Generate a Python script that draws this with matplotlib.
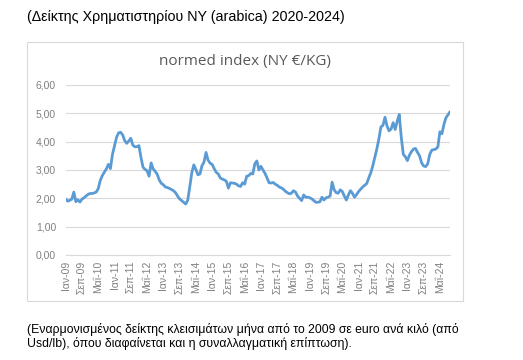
import matplotlib.pyplot as plt
import matplotlib.patches as mpatches
import pandas as pd

# monthly closing index, euro per kilo, Jan 2009 - Oct 2024
index_2009 = [1.98, 1.90, 1.93, 1.97, 2.22, 1.88, 1.95, 1.87, 1.97, 2.02, 2.08, 2.14]
index_2010 = [2.17, 2.17, 2.19, 2.22, 2.34, 2.63, 2.80, 2.92, 3.04, 3.20, 3.05, 3.55]
index_2011 = [3.85, 4.15, 4.31, 4.33, 4.24, 4.04, 3.94, 4.02, 4.12, 3.88, 3.82, 3.82]
index_2012 = [3.86, 3.45, 3.10, 3.02, 2.98, 2.78, 3.25, 3.04, 2.95, 2.85, 2.65, 2.53]
index_2013 = [2.48, 2.40, 2.38, 2.35, 2.31, 2.27, 2.20, 2.08, 1.98, 1.92, 1.86, 1.80]
index_2014 = [1.93, 2.40, 2.90, 3.18, 3.02, 2.83, 2.86, 3.15, 3.28, 3.62, 3.35, 3.24]
index_2015 = [3.20, 3.05, 2.92, 2.86, 2.72, 2.68, 2.65, 2.60, 2.36, 2.55, 2.54, 2.53]
index_2016 = [2.50, 2.44, 2.42, 2.55, 2.50, 2.78, 2.80, 2.88, 2.86, 3.22, 3.32, 3.00]
index_2017 = [3.13, 3.00, 2.88, 2.72, 2.55, 2.54, 2.56, 2.50, 2.46, 2.40, 2.37, 2.32]
index_2018 = [2.25, 2.20, 2.16, 2.18, 2.27, 2.22, 2.08, 2.00, 1.92, 2.12, 2.04, 2.04]
index_2019 = [2.02, 1.98, 1.92, 1.86, 1.86, 1.88, 2.04, 1.94, 2.02, 2.04, 2.08, 2.57]
index_2020 = [2.30, 2.20, 2.18, 2.30, 2.24, 2.08, 1.94, 2.12, 2.27, 2.18, 2.04, 2.13]
index_2021 = [2.24, 2.32, 2.40, 2.46, 2.52, 2.72, 2.90, 3.15, 3.45, 3.75, 4.10, 4.52]
index_2022 = [4.58, 4.86, 4.55, 4.38, 4.45, 4.67, 4.43, 4.72, 4.96, 4.15, 3.55, 3.47]
index_2023 = [3.33, 3.52, 3.65, 3.74, 3.76, 3.62, 3.50, 3.25, 3.14, 3.12, 3.22, 3.55]
index_2024 = [3.70, 3.72, 3.74, 3.82, 4.35, 4.28, 4.62, 4.85, 4.95, 5.06]

values = (index_2009 + index_2010 + index_2011 + index_2012 + index_2013 + index_2014
          + index_2015 + index_2016 + index_2017 + index_2018 + index_2019 + index_2020
          + index_2021 + index_2022 + index_2023 + index_2024)

greek_months = ['Ιαν', 'Φεβ', 'Μαρ', 'Απρ', 'Μαΐ', 'Ιουν',
                'Ιουλ', 'Αυγ', 'Σεπ', 'Οκτ', 'Νοε', 'Δεκ']
dates = pd.date_range('2009-01-01', periods=len(values), freq='MS')
labels = [f"{greek_months[d.month - 1]}-{d.year % 100:02d}" for d in dates]
tick_step = 8

plt.rcParams['font.family'] = ['Liberation Sans', 'DejaVu Sans']

fig = plt.figure(figsize=(5.23, 3.6), dpi=100)
ax = fig.add_axes([0.1256, 0.2917, 0.735, 0.4722])

# chart frame
fig.patches.append(mpatches.Rectangle((27 / 523, 1 - 301 / 360), 436 / 523, 259 / 360,
                                      transform=fig.transFigure, fill=False,
                                      edgecolor='#D9D9D9', linewidth=0.8, zorder=0))

x = list(range(len(values)))
ax.plot(x, values, color='#5B9BD5', linewidth=2.0, solid_capstyle='round')

ax.set_xlim(0, len(values) - 1)
ax.set_ylim(0, 6)
ax.set_yticks([0, 1, 2, 3, 4, 5, 6])
ax.set_yticklabels([f"{v:.2f}".replace('.', ',') for v in range(7)])
ax.set_xticks(x[::tick_step])
ax.set_xticklabels(labels[::tick_step], rotation=90)
ax.grid(axis='y', color='#D9D9D9', linewidth=0.8)
ax.set_axisbelow(True)
for side in ['top', 'right', 'left']:
    ax.spines[side].set_visible(False)
ax.spines['bottom'].set_color('#D9D9D9')
ax.tick_params(axis='both', length=0, colors='#808080', labelsize=7.5)
ax.tick_params(axis='y', pad=7)
ax.tick_params(axis='x', pad=4)

fig.text(245 / 523, 1 - 62 / 360, 'normed index (NY €/KG)', ha='center', va='center',
         fontsize=11, color='#595959', family=['Open Sans', 'DejaVu Sans'])
fig.text(27 / 523, 1 - 17 / 360, '(Δείκτης Χρηματιστηρίου NY (arabica) 2020-2024)',
         ha='left', va='center', fontsize=10.3, color='black')
fig.text(27 / 523, 1 - 336 / 360,
         '(Εναρμονισμένος δείκτης κλεισιμάτων μήνα από το 2009 σε euro ανά κιλό (από\n'
         'Usd/lb), όπου διαφαίνεται και η συναλλαγματική επίπτωση).',
         ha='left', va='center', fontsize=8.8, color='black', linespacing=1.1)

fig.savefig('out.png', dpi=100)
